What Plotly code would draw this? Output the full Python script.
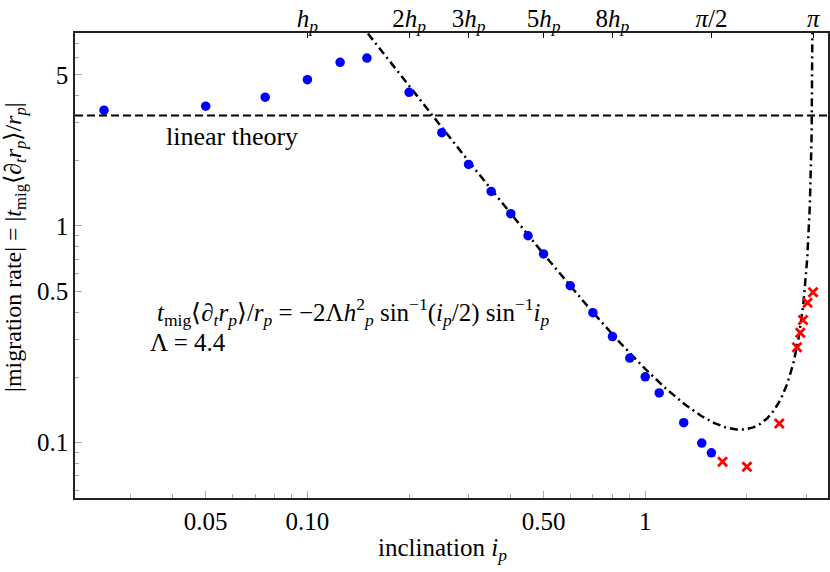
import numpy as np
import plotly.graph_objects as go

# ---------------- data ----------------
# blue points (simulation, dots)
blue_x = [0.025, 0.05, 0.075, 0.10, 0.125, 0.15, 0.20, 0.25, 0.30, 0.35, 0.40,
          0.45, 0.50, 0.60, 0.70, 0.80, 0.90, 1.00, 1.10, 1.30, 1.47, 1.57]
blue_y = [3.43, 3.58, 3.94, 4.75, 5.71, 5.98, 4.15, 2.70, 1.925, 1.444, 1.139,
          0.901, 0.742, 0.529, 0.397, 0.308, 0.245, 0.2005, 0.169, 0.123, 0.099, 0.0893]
# red crosses
red_x = [1.694, 2.0, 2.494, 2.813, 2.877, 2.931, 3.024, 3.138]
red_y = [0.0812, 0.0770, 0.122, 0.275, 0.321, 0.3675, 0.4418, 0.4935]

# linear theory level
linear_theory = 3.24

# analytic fit: t_mig <d_t r_p>/r_p = -2 Lambda h_p^2 / (sin(i/2) sin(i))
LAMBDA = 4.4
H_P = 0.1
curve_i = np.concatenate([np.geomspace(0.14, 3.0, 500),
                          np.pi - np.geomspace(0.14, 0.004, 300)])
curve_y = 2 * LAMBDA * H_P**2 / (np.sin(curve_i / 2) * np.sin(curve_i))

# axis ticks
x_major_vals = [0.05, 0.10, 0.50, 1.0]
x_major_text = ["0.05", "0.10", "0.50", "1"]
x_minor_vals = [0.03, 0.04, 0.06, 0.07, 0.08, 0.09, 0.2, 0.3, 0.4,
                0.6, 0.7, 0.8, 0.9, 2, 3]
top_vals = [H_P, 2 * H_P, 3 * H_P, 5 * H_P, 8 * H_P, np.pi / 2, np.pi]
top_text = ["<i>h</i><sub><i>p</i></sub>", "2<i>h</i><sub><i>p</i></sub>",
            "3<i>h</i><sub><i>p</i></sub>", "5<i>h</i><sub><i>p</i></sub>",
            "8<i>h</i><sub><i>p</i></sub>", "<i>π</i>/2", "<i>π</i>"]
y_major_vals = [0.1, 0.5, 1, 5]
y_major_text = ["0.1", "0.5", "1", "5"]
y_minor_vals = [0.06, 0.07, 0.08, 0.09, 0.2, 0.3, 0.4, 0.6, 0.7, 0.8, 0.9,
                2, 3, 4, 6, 7]

XRANGE = [-1.6879, 0.5410]
YRANGE = [-1.2582, 0.8924]

FONT = "Liberation Serif, Times New Roman, serif"
FS = 25

fig = go.Figure()

fig.add_trace(go.Scatter(
    x=curve_i, y=curve_y, mode="lines",
    line=dict(color="black", width=2.5, dash="8px,4px,2px,4px"),
    hoverinfo="skip", showlegend=False))

fig.add_trace(go.Scatter(
    x=blue_x, y=blue_y, mode="markers",
    marker=dict(color="#0000ff", size=9.5, symbol="circle"),
    showlegend=False))

fig.add_trace(go.Scatter(
    x=red_x, y=red_y, mode="markers",
    marker=dict(color="#ff0000", size=9, symbol="x-thin",
                line=dict(color="#ff0000", width=2.8)),
    showlegend=False))

# invisible trace to activate top axis
fig.add_trace(go.Scatter(x=[1], y=[1], xaxis="x2", mode="markers",
                         marker=dict(opacity=0), showlegend=False,
                         hoverinfo="skip"))

fig.add_hline(y=linear_theory, line=dict(color="black", width=2, dash="8px,4px"))

fig.update_layout(
    width=830, height=572,
    margin=dict(l=75, r=2, t=33, b=74),
    paper_bgcolor="white", plot_bgcolor="white",
    font=dict(family=FONT, size=FS, color="black"),
    xaxis=dict(type="log", range=XRANGE, showgrid=False, zeroline=False,
               automargin=False,
               showline=True, linecolor="#222", linewidth=1.5, mirror=True,
               tickmode="array", tickvals=x_major_vals, ticktext=x_major_text,
               ticks="inside", ticklen=7, tickcolor="#aaa", tickwidth=1,
               tickfont=dict(family=FONT, size=FS),
               minor=dict(tickmode="array", tickvals=x_minor_vals,
                          ticks="inside", ticklen=4, tickcolor="#aaa",
                          tickwidth=1, showgrid=False)),
    xaxis2=dict(type="log", range=XRANGE, overlaying="x", side="top",
                automargin=False,
                showgrid=False, zeroline=False, showline=False,
                tickmode="array", tickvals=top_vals, ticktext=top_text,
                ticks="inside", ticklen=5, tickcolor="black", tickwidth=1,
                tickfont=dict(family=FONT, size=FS)),
    yaxis=dict(type="log", range=YRANGE, showgrid=False, zeroline=False,
               automargin=False,
               showline=True, linecolor="#222", linewidth=1.5, mirror=True,
               tickmode="array", tickvals=y_major_vals, ticktext=y_major_text,
               ticks="inside", ticklen=7, tickcolor="#aaa", tickwidth=1,
               tickfont=dict(family=FONT, size=FS),
               minor=dict(tickmode="array", tickvals=y_minor_vals,
                          ticks="inside", ticklen=4, tickcolor="#aaa",
                          tickwidth=1, showgrid=False)),
)

LB, RB = "\u27e8", "\u27e9"
annotations = [
    dict(text="linear theory", x=np.log10(0.0598), y=np.log10(2.60),
         xref="x", yref="y", showarrow=False, xanchor="center", yanchor="middle",
         font=dict(family=FONT, size=26)),
    dict(text="<i>t</i><sub>mig</sub>" + LB + "∂<sub><i>t</i></sub><i>r</i><sub><i>p</i></sub>" + RB
              + "/<i>r</i><sub><i>p</i></sub>"
              " = −2Λ<i>h</i><sup>2</sup><sub><i>p</i></sub> sin<sup>−1</sup>(<i>i</i><sub><i>p</i></sub>/2) "
              "sin<sup>−1</sup><i>i</i><sub><i>p</i></sub>",
         x=np.log10(0.1365), y=np.log10(0.40), xref="x", yref="y",
         showarrow=False, xanchor="center", yanchor="middle",
         font=dict(family=FONT, size=25)),
    dict(text="Λ = " + str(LAMBDA), x=np.log10(0.0442), y=np.log10(0.29),
         xref="x", yref="y", showarrow=False, xanchor="center", yanchor="middle",
         font=dict(family=FONT, size=FS)),
    dict(text="inclination <i>i</i><sub><i>p</i></sub>", x=0.488, y=-0.11,
         xref="paper", yref="paper", showarrow=False, xanchor="center",
         yanchor="middle", font=dict(family=FONT, size=FS)),
    dict(text="|migration rate| = |<i>t</i><sub>mig</sub>" + LB + "∂<sub><i>t</i></sub><i>r</i><sub><i>p</i></sub>"
              + RB + "/<i>r</i><sub><i>p</i></sub>|",
         x=-0.079, y=0.539, xref="paper", yref="paper", textangle=-90,
         showarrow=False, xanchor="center", yanchor="middle",
         font=dict(family=FONT, size=24)),
]
fig.update_layout(annotations=annotations)

fig.write_html("out.html",
               config={"displayModeBar": False},
               post_script="document.body.style.margin='0';"
                           "document.body.style.padding='0';")
